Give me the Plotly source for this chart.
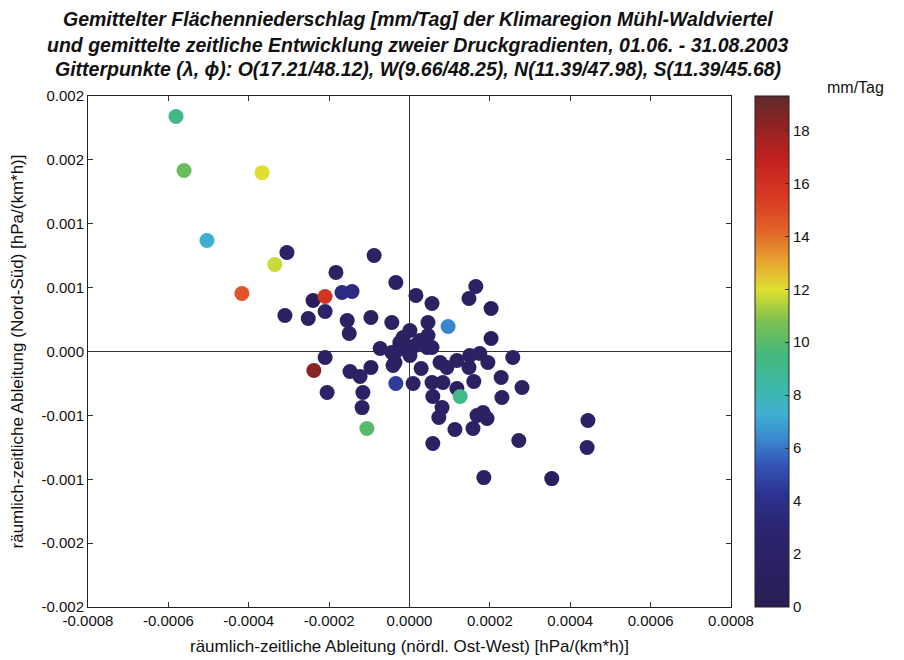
import plotly.graph_objects as go

# räumlich-zeitliche Ableitung (nördl. Ost-West) [hPa/(km*h)]
x_ew = [-0.000581, -0.000561, -0.000367, -0.000504, -0.000305, -0.000335, -0.000417,
        -0.000183, -0.000088, -0.000034, 0.000016, 0.000056, -0.000240, -0.000210,
        -0.000168, -0.000143, -0.000310, -0.000252, -0.000210, -0.000155, -0.000150,
        -0.000096, -0.000044, 0.000046, 0.000096, 0.000165, 0.000148, 0.000203,
        0.000203, 0.000001, 0.000046, -0.000016, -0.000024, 0.000026, -0.000006,
        0.000044, -0.000031, 0.000014, -0.000073, -0.000210, -0.000238, -0.000148,
        -0.000123, -0.000096, -0.000205, -0.000116, -0.000118, -0.000106, -0.000036,
        -0.000034, 0.000009, 0.000029, 0.000076, 0.000118, 0.000093, 0.000150,
        0.000175, 0.000195, 0.000257, 0.000148, 0.000228, 0.000280, 0.000056,
        0.000083, 0.000160, 0.000118, 0.000126, 0.000058, 0.000230, 0.000081,
        0.000073, 0.000168, 0.000183, 0.000193, 0.000113, 0.000158, 0.000444,
        0.000058, 0.000272, 0.000442, 0.000185, 0.000354, -0.000044, 0.000001,
        -0.000041, 0.000056]
# räumlich-zeitliche Ableitung (Nord-Süd) [hPa/(km*h)]
y_ns = [0.00184, 0.001417, 0.00140, 0.000869, 0.000775, 0.000681, 0.000454,
        0.000619, 0.000752, 0.000540, 0.000439, 0.000376, 0.000399, 0.000431,
        0.000462, 0.000470, 0.000282, 0.000258, 0.000313, 0.000243, 0.000141,
        0.000266, 0.000227, 0.000227, 0.000196, 0.000509, 0.000415, 0.000337,
        0.000102, 0.000164, 0.000125, 0.000110, 0.000070, 0.000086, 0.000031,
        0.000031, 0.000008, 0.000047, 0.000023, -0.000047, -0.000149, -0.000157,
        -0.000196, -0.000125, -0.000321, -0.000321, -0.000439, -0.000603, -0.000086,
        -0.000251, -0.000251, -0.000133, -0.000086, -0.000070, -0.000125, -0.000031,
        -0.000016, -0.000086, -0.000047, -0.000125, -0.000204, -0.000282, -0.000243,
        -0.000243, -0.000235, -0.000290, -0.000352, -0.000352, -0.000360, -0.000439,
        -0.000517, -0.000501, -0.000478, -0.000525, -0.000611, -0.000603, -0.000540,
        -0.000720, -0.000697, -0.000752, -0.000987, -0.000995, -0.000008, -0.000031,
        -0.000110, 0.000031]
# Gemittelter Flächenniederschlag [mm/Tag]
niederschlag = [9.3, 10.4, 12.0, 7.3, 2.0, 11.7, 14.6, 1.5, 1.5, 1.5, 1.5, 1.5, 1.0, 15.8,
                3.6, 3.6, 1.5, 1.5, 2.0, 1.5, 1.5, 1.5, 1.5, 1.5, 6.3, 1.5, 1.5, 1.0,
                1.0, 1.5, 1.5, 1.5, 1.5, 1.5, 1.5, 1.5, 1.5, 1.5, 1.5, 1.5, 18.3, 1.5,
                1.5, 1.0, 2.0, 1.5, 1.5, 10.0, 1.5, 4.6, 1.5, 1.5, 1.5, 1.5, 1.5, 1.5,
                1.5, 1.5, 1.5, 1.5, 1.5, 1.5, 1.5, 1.5, 1.5, 1.0, 9.2, 1.5, 1.5, 1.5,
                1.5, 1.5, 1.5, 1.5, 1.5, 1.5, 1.5, 1.5, 1.5, 1.5, 1.5, 1.0, 1.5, 1.5,
                1.5, 1.5]

x_tickvals = [-0.0008, -0.0006, -0.0004, -0.0002, 0.0, 0.0002, 0.0004, 0.0006, 0.0008]
x_ticktext = ["-0.0008", "-0.0006", "-0.0004", "-0.0002", "0.0000", "0.0002", "0.0004", "0.0006", "0.0008"]
y_tickvals = [0.002, 0.0015, 0.001, 0.0005, 0.0, -0.0005, -0.001, -0.0015, -0.002]
y_ticktext = ["0.002", "0.002", "0.001", "0.001", "0.000", "-0.001", "-0.001", "-0.002", "-0.002"]
cbar_ticks = [0, 2, 4, 6, 8, 10, 12, 14, 16, 18]

title_lines = [
    "Gemittelter Flächenniederschlag [mm/Tag] der Klimaregion Mühl-Waldviertel",
    "und gemittelte zeitliche Entwicklung zweier Druckgradienten, 01.06. - 31.08.2003",
    "Gitterpunkte (λ, ϕ): O(17.21/48.12), W(9.66/48.25), N(11.39/47.98), S(11.39/45.68)",
]

colorscale = [
    [0.00, "#2a1d55"], [0.15, "#2b2470"], [0.22, "#2c3290"], [0.28, "#3456b8"],
    [0.33, "#3a8ad0"], [0.38, "#3fb0d0"], [0.44, "#3cb8a0"], [0.50, "#48b878"],
    [0.56, "#7cc050"], [0.62, "#e0e030"], [0.68, "#e8a030"], [0.74, "#e06028"],
    [0.80, "#d83a24"], [0.88, "#c02020"], [0.95, "#8a2424"], [1.00, "#5e2a2a"],
]

fig = go.Figure()
fig.add_trace(go.Scatter(
    x=x_ew, y=y_ns, mode="markers",
    marker=dict(
        size=15, color=niederschlag, colorscale=colorscale, cmin=0, cmax=19.3,
        line=dict(width=0),
        colorbar=dict(
            x=1.037, xanchor="left", y=0.5, yanchor="middle", len=1.0, lenmode="fraction",
            thickness=34, outlinewidth=1, outlinecolor="#222", xpad=0, ypad=0,
            tickvals=cbar_ticks, ticks="inside", ticklen=4, tickcolor="#333",
            tickfont=dict(family="Liberation Sans, Arial, sans-serif", size=15, color="#111"),
        ),
    ),
    showlegend=False,
))

axis_common = dict(
    showgrid=False, ticks="inside", ticklen=5, tickcolor="#333", mirror="allticks",
    showline=True, linecolor="#222", linewidth=1, automargin=False,
    zeroline=True, zerolinecolor="#333", zerolinewidth=1.2,
    tickfont=dict(family="Liberation Sans, Arial, sans-serif", size=15, color="#111"),
)

fig.update_xaxes(
    range=[-0.0008, 0.0008], tickvals=x_tickvals, ticktext=x_ticktext,
    title=dict(text="räumlich-zeitliche Ableitung (nördl. Ost-West) [hPa/(km*h)]",
               font=dict(family="Liberation Sans, Arial, sans-serif", size=17, color="#111"),
               standoff=12),
    **axis_common,
)
fig.update_yaxes(
    range=[-0.002, 0.002], tickvals=y_tickvals, ticktext=y_ticktext,
    title=dict(text="räumlich-zeitliche Ableitung (Nord-Süd) [hPa/(km*h)]",
               font=dict(family="Liberation Sans, Arial, sans-serif", size=17, color="#111"),
               standoff=15),
    **axis_common,
)

annotations = []
for line, yp in zip(title_lines, [1.151, 1.100, 1.053]):
    annotations.append(dict(
        text="<b><i>" + line + "</i></b>", x=0.513, y=yp, xref="paper", yref="paper",
        xanchor="center", yanchor="middle", showarrow=False,
        font=dict(family="Liberation Sans, Arial, sans-serif", size=19.5, color="#111"),
    ))
annotations.append(dict(
    text="mm/Tag", x=1.193, y=1.016, xref="paper", yref="paper",
    xanchor="center", yanchor="middle", showarrow=False,
    font=dict(family="Liberation Sans, Arial, sans-serif", size=16, color="#111"),
))

fig.update_layout(
    width=896, height=652,
    margin=dict(l=80, r=173, t=88, b=53, autoexpand=False),
    paper_bgcolor="white", plot_bgcolor="white",
    annotations=annotations,
)

fig.write_html("out.html")
